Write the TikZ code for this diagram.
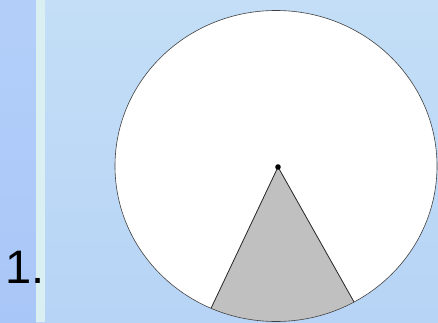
\documentclass[tikz,border=0pt]{standalone}
\usepackage{fontspec}
\setmainfont{Liberation Sans}
\usetikzlibrary{calc}

\definecolor{paneblue}{HTML}{C3DEF6}
\definecolor{paneblue2}{HTML}{B7D4F6}
\definecolor{barblue}{HTML}{B3CFF9}
\definecolor{barblue2}{HTML}{A9C6F8}
\definecolor{barline}{HTML}{D9EFF1}
\definecolor{sectorgray}{HTML}{C0C0C0}

\begin{document}
\begin{tikzpicture}[
    x=1pt, y=1pt,
    outline/.style={draw=black!75, line width=0.6pt},
    sector/.style={fill=sectorgray},
    edge/.style={draw=black!85, line width=0.8pt},
    label/.style={inner sep=0pt, anchor=base west, font=\fontsize{47}{47}\selectfont}
]
\useasboundingbox (0,0) rectangle (438,322);
% background
\shade[top color=paneblue, bottom color=paneblue2] (0,0) rectangle (438,322);
\shade[top color=barblue, bottom color=barblue2] (0,0) rectangle (36,322);
\fill[barline] (36,0) rectangle (45,322);

% circle and sector
\coordinate (centre) at (276,156);
\coordinate (apex) at (278,155);
\fill[white] (centre) ellipse [x radius=161pt, y radius=155.5pt];
\coordinate (left) at ($(centre)+(246.2:161pt and 155.5pt)$);
\coordinate (right) at ($(centre)+(299:161pt and 155.5pt)$);
\fill[sector] (apex) -- (left) arc[start angle=246.2, end angle=299, x radius=161pt, y radius=155.5pt] -- cycle;
\draw[edge] (left) -- (apex) -- (right);
\draw[outline] (centre) ellipse [x radius=161pt, y radius=155.5pt];
\fill[black] (apex) circle [radius=2.8pt];

\node[label] (num) at (5.5,39) {1.};
\end{tikzpicture}
\end{document}
